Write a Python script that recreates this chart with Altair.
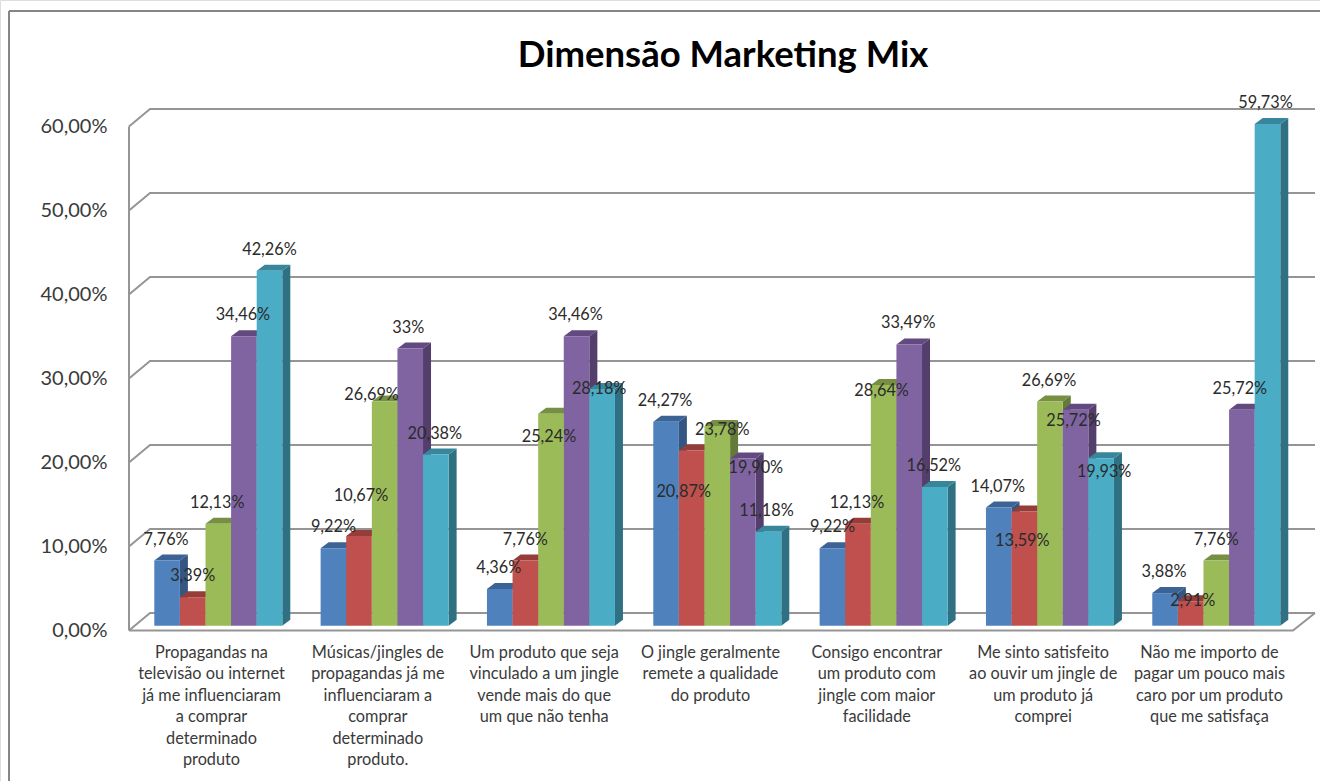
import altair as alt
import pandas as pd

CHART_TITLE = "Dimensão Marketing Mix"
FONT = "Lato"

categories = [
    "Propagandas na\ntelevisão ou internet\njá me influenciaram\na comprar\ndeterminado\nproduto",
    "Músicas/jingles de\npropagandas já me\ninfluenciaram a\ncomprar\ndeterminado\nproduto.",
    "Um produto que seja\nvinculado a um jingle\nvende mais do que\num que não tenha",
    "O jingle geralmente\nremete a qualidade\ndo produto",
    "Consigo encontrar\num produto com\njingle com maior\nfacilidade",
    "Me sinto satisfeito\nao ouvir um jingle de\num produto já\ncomprei",
    "Não me importo de\npagar um pouco mais\ncaro por um produto\nque me satisfaça",
]

series_1 = [7.76, 9.22, 4.36, 24.27, 9.22, 14.07, 3.88]
series_2 = [3.39, 10.67, 7.76, 20.87, 12.13, 13.59, 2.91]
series_3 = [12.13, 26.69, 25.24, 23.78, 28.64, 26.69, 7.76]
series_4 = [34.46, 33.00, 34.46, 19.90, 33.49, 25.72, 25.72]
series_5 = [42.26, 20.38, 28.18, 11.18, 16.52, 19.93, 59.73]
all_series = [series_1, series_2, series_3, series_4, series_5]

# front, top and side shades for each series
front_colors = ["#4F81BD", "#C0504D", "#9BBB59", "#8064A2", "#4BACC6"]
top_colors = ["#3B6396", "#963D3A", "#768F43", "#62497F", "#38869B"]
side_colors = ["#345680", "#7F3331", "#647A39", "#533E6C", "#2F7183"]

y_ticks = [0, 10, 20, 30, 40, 50, 60]

# Layout constants, in pixels
W, H = 1320, 781
BAR_BASE = 625.7
PX_PER_UNIT = 8.4
GROUP_START = 154.3
GROUP_STEP = 166.33
BAR_W = 25.6
DEPTH_X, DEPTH_Y = 8, 6
WALL_FRONT_X, WALL_BACK_X = 129, 150
FLOOR_FRONT_RIGHT, WALL_RIGHT = 1293, 1315
FRONT_Y0, BACK_Y0 = 630.6, 613.0
LABEL_RISE = 21

# Hand-placed data labels: (group, series) -> (dx, dy) in pixels
label_nudges = {
    (0, 0): (-1, 0),
    (0, 2): (-1, 0),
    (0, 3): (-1, 0),
    (1, 1): (2, -19),
    (1, 2): (-13, 14),
    (1, 3): (-2, 0),
    (1, 4): (-1, 0),
    (2, 0): (-1, 0),
    (2, 2): (-2, 44),
    (2, 3): (-1, 0),
    (2, 4): (-3, 21),
    (3, 0): (-1, 0),
    (3, 1): (-8, 63),
    (3, 2): (5, 25),
    (3, 3): (13, 30),
    (3, 4): (-2, 0),
    (4, 1): (-1, 0),
    (4, 2): (-2, 27),
    (4, 3): (-1, 0),
    (4, 4): (-1, 0),
    (5, 0): (-1, 0),
    (5, 1): (-2, 50),
    (5, 2): (-1, 0),
    (5, 3): (-2, 32),
    (5, 4): (3, 35),
    (6, 0): (-1, 0),
    (6, 1): (2, 21),
    (6, 3): (-2, 0),
    (6, 4): (-2, 0),
}


def px_to_units(px):
    return (BAR_BASE - px) / PX_PER_UNIT


def pretty(v):
    text = f"{v:.2f}".replace(".", ",")
    if text.endswith(",00"):
        text = text[:-3]
    return text + "%"


Y_DOMAIN = [px_to_units(H), px_to_units(0)]
dz = DEPTH_Y / PX_PER_UNIT

# Every bar face becomes one area path; painting order is the row order.
faces = []
face_id = 0


def add_face(color, pts):
    global face_id
    for x, lo, hi in pts:
        faces.append({"face": face_id, "x": x, "lo": lo, "hi": hi, "color": color})
    face_id += 1


labels = []
for g in range(len(categories)):
    for s, values in enumerate(all_series):
        v = values[g]
        x0 = GROUP_START + g * GROUP_STEP + s * BAR_W
        x1 = x0 + BAR_W
        add_face(side_colors[s], [(x1, 0, v), (x1 + DEPTH_X, dz, v + dz)])
        add_face(top_colors[s], [
            (x0, v, v),
            (x0 + DEPTH_X, v, v + dz),
            (x1, v, v + dz),
            (x1 + DEPTH_X, v + dz, v + dz),
        ])
        add_face(front_colors[s], [(x0, 0, v), (x1, 0, v)])
        dx, dy = label_nudges.get((g, s), (0, 0))
        labels.append({
            "x": (x0 + x1) / 2 + dx,
            "y": v + (LABEL_RISE - dy) / PX_PER_UNIT,
            "text": pretty(v),
        })

# Back wall gridlines, the left wall edge and the floor outline
front_u0 = px_to_units(FRONT_Y0)
back_u0 = px_to_units(BACK_Y0)
wall = []
path_id = 0


def add_path(pts):
    global path_id
    for i, (x, y) in enumerate(pts):
        wall.append({"path": path_id, "v": i, "x": x, "y": y})
    path_id += 1


for t in y_ticks:
    add_path([(WALL_FRONT_X, front_u0 + t), (WALL_BACK_X, back_u0 + t), (WALL_RIGHT, back_u0 + t)])
add_path([(WALL_FRONT_X, front_u0 + y_ticks[-1]), (WALL_FRONT_X, front_u0)])
add_path([(WALL_FRONT_X, front_u0), (FLOOR_FRONT_RIGHT, front_u0), (WALL_RIGHT, back_u0)])

x_scale = alt.Scale(domain=[0, W], range=[0, W], nice=False, zero=False)
y_scale = alt.Scale(domain=Y_DOMAIN, range=[H, 0], nice=False, zero=False)
x_enc = alt.X("x:Q", scale=x_scale, axis=None)

y_axis = alt.Axis(
    values=y_ticks,
    labelExpr="replace(format(datum.value, '.2f'), '.', ',') + '%'",
    offset=-107,
    labelPadding=0,
    labelOffset=4.5,
    labelFont=FONT,
    labelFontSize=20,
    labelColor="#3a3a3a",
    ticks=False,
    domain=False,
    grid=False,
    title=None,
)

wall_layer = alt.Chart(pd.DataFrame(wall)).mark_line(color="#959595", strokeWidth=2).encode(
    x=x_enc,
    y=alt.Y("y:Q", scale=y_scale, axis=y_axis),
    detail="path:N",
    order="v:Q",
)

bars_layer = alt.Chart(pd.DataFrame(faces)).mark_area(opacity=1, orient="vertical").encode(
    x=x_enc,
    y=alt.Y("lo:Q", scale=y_scale, stack=None),
    y2="hi:Q",
    color=alt.Color("color:N", scale=None),
    detail="face:N",
)

value_labels = alt.Chart(pd.DataFrame(labels)).mark_text(
    font=FONT, fontSize=16.3, color="#2b2b2b", baseline="middle"
).encode(
    x=x_enc,
    y=alt.Y("y:Q", scale=y_scale),
    text="text:N",
)

category_df = pd.DataFrame({
    "x": [211.5 + i * GROUP_STEP for i in range(len(categories))],
    "y": [px_to_units(644.5)] * len(categories),
    "text": categories,
})
category_labels = alt.Chart(category_df).mark_text(
    font=FONT, fontSize=16.3, color="#3a3a3a", baseline="top", lineBreak="\n", lineHeight=21.5
).encode(
    x=x_enc,
    y=alt.Y("y:Q", scale=y_scale),
    text="text:N",
)

# Chart frame: only the top and left edges fall inside the page
frame_top = alt.Chart().mark_rule(color="#868686", strokeWidth=2).encode(
    x=alt.value(9), x2=alt.value(W), y=alt.value(11)
)
frame_left = alt.Chart().mark_rule(color="#868686", strokeWidth=2).encode(
    x=alt.value(9), y=alt.value(11), y2=alt.value(H)
)

chart = alt.layer(
    frame_top, frame_left, wall_layer, bars_layer, value_labels, category_labels
).properties(
    width=W,
    height=H,
    padding=0,
    autosize=alt.AutoSizeParams(type="none"),
    title=alt.TitleParams(
        text=CHART_TITLE,
        font=FONT,
        fontSize=36.5,
        fontWeight="bold",
        color="#000000",
        anchor="middle",
        frame="group",
        baseline="middle",
        offset=-92,
        dx=63,
    ),
).configure_view(stroke=None).configure(background="white")

chart.save("out.html", embed_options={"renderer": "svg", "actions": False})
